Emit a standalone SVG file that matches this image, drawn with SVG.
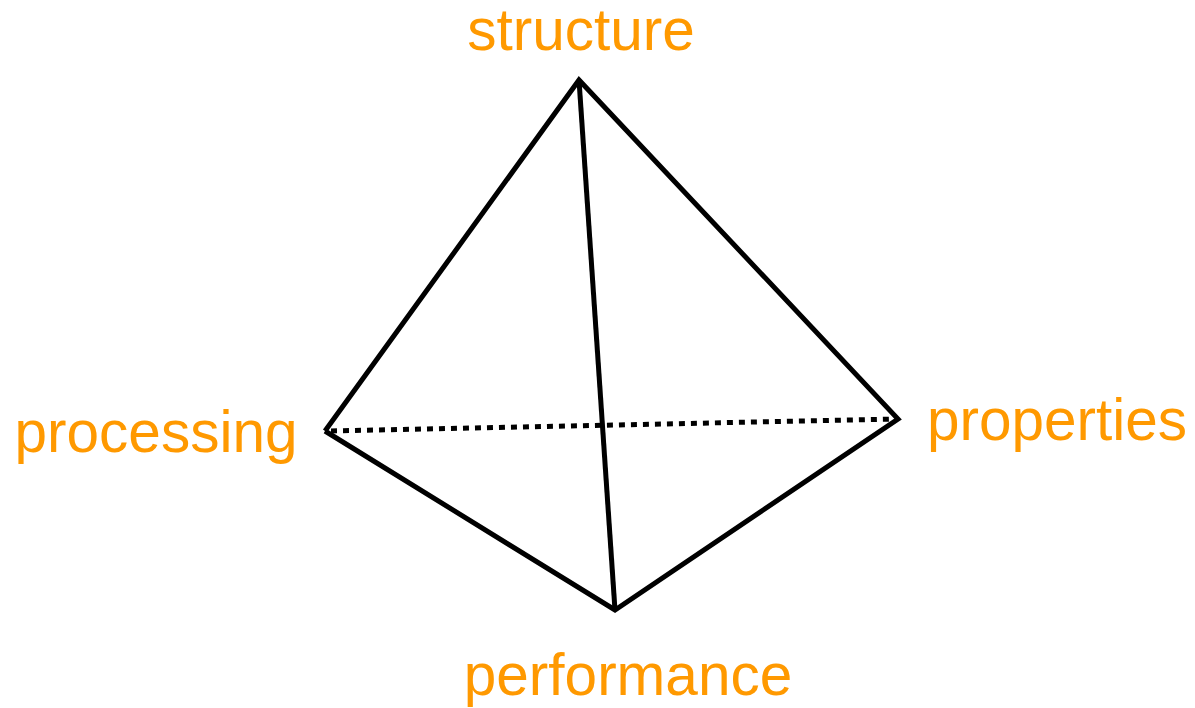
<svg xmlns="http://www.w3.org/2000/svg" width="1195" height="708" viewBox="0 0 1195 708">
<style>
.lbl{font-family:"Liberation Sans",Arial,sans-serif;font-size:58.5px;fill:#FF9900;text-anchor:middle}
.e{stroke:#000;stroke-width:5;fill:none;stroke-linecap:butt;stroke-linejoin:miter}
.d{stroke-dasharray:6 6}
</style>
<rect width="1195" height="708" fill="#fff"/>
<g id="connectors">
<line class="e d" x1="331" y1="431" x2="898" y2="419"/>
<polyline class="e" points="325,431 579,80 898,419 615,610 325,431"/>
<line class="e" x1="579" y1="80" x2="615" y2="610"/>
</g>
<g id="structure"><text class="lbl" x="581" y="50">structure</text></g>
<g id="processing"><text class="lbl" x="156" y="452">processing</text></g>
<g id="properties"><text class="lbl" x="1057" y="440">properties</text></g>
<g id="performance"><text class="lbl" x="628" y="695">performance</text></g>
</svg>
